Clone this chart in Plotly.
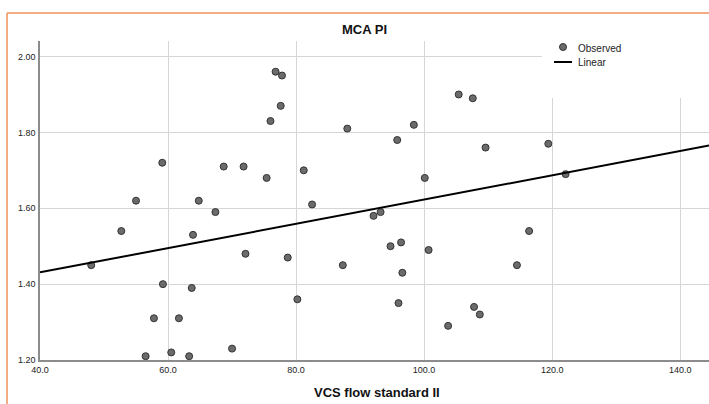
import plotly.graph_objects as go

# Observed data (VCS flow standard II vs MCA PI)
vcs_flow = [76.8, 77.8, 77.6, 76.0, 88.0, 59.1, 68.7, 71.8, 75.4, 81.2,
            55.0, 64.8, 98.4, 105.4, 107.6, 95.8, 109.6, 100.1, 82.5, 119.4,
            122.1, 67.4, 52.7, 63.9, 72.1, 48.0, 59.2, 63.7, 57.8, 61.7,
            70.0, 56.5, 60.5, 63.3, 92.1, 93.2, 94.75, 96.4, 100.7, 78.7,
            87.3, 96.6, 80.2, 96.0, 107.8, 108.7, 103.75, 116.4, 114.5]
mca_pi = [1.96, 1.95, 1.87, 1.83, 1.81, 1.72, 1.71, 1.71, 1.68, 1.70,
          1.62, 1.62, 1.82, 1.90, 1.89, 1.78, 1.76, 1.68, 1.61, 1.77,
          1.69, 1.59, 1.54, 1.53, 1.48, 1.45, 1.40, 1.39, 1.31, 1.31,
          1.23, 1.21, 1.22, 1.21, 1.58, 1.59, 1.50, 1.51, 1.49, 1.47,
          1.45, 1.43, 1.36, 1.35, 1.34, 1.32, 1.29, 1.54, 1.45]

# Linear fit
linear_intercept = 1.303
linear_slope = 0.0032

x_ticks = [40, 60, 80, 100, 120, 140]
x_tick_labels = ["40.0", "60.0", "80.0", "100.0", "120.0", "140.0"]
y_ticks = [1.20, 1.40, 1.60, 1.80, 2.00]
y_tick_labels = ["1.20", "1.40", "1.60", "1.80", "2.00"]

x_range = [40, 144.5]
y_range = [1.20, 2.041]

fit_x = x_range
fit_y = [linear_intercept + linear_slope * v for v in fit_x]

fig = go.Figure()
fig.add_trace(go.Scatter(
    x=vcs_flow, y=mca_pi, mode="markers", name="Observed",
    marker=dict(size=7, color="#6b6b6b", line=dict(color="#333333", width=1)),
    showlegend=False, cliponaxis=False))
fig.add_trace(go.Scatter(
    x=fit_x, y=fit_y, mode="lines", name="Linear",
    line=dict(color="#000000", width=2), showlegend=False))

grid_color = "#d6d6d6"
shapes = []
# legend white box hiding gridlines
shapes.append(dict(type="rect", xref="x", yref="y", x0=118.4, x1=144.5,
                   y0=1.891, y1=2.041, fillcolor="white", line=dict(width=0),
                   layer="between"))
# orange frame
shapes.append(dict(type="line", xref="paper", yref="paper", x0=-0.0493, x1=1.01,
                   y0=1.0878, y1=1.0878, line=dict(color="#f0915a", width=1.5)))
shapes.append(dict(type="line", xref="paper", yref="paper", x0=-0.0493, x1=-0.0493,
                   y0=1.0878, y1=-0.15, line=dict(color="#f0915a", width=1.5)))


# manual legend
def px_x(p):
    return (p - 40) / 669.0


def px_y(p):
    return (360 - p) / 319.0


shapes.append(dict(type="circle", xref="paper", yref="paper",
                   x0=px_x(559.5), x1=px_x(566.5), y0=px_y(50.5), y1=px_y(43.5),
                   fillcolor="#6b6b6b", line=dict(color="#333333", width=1)))
shapes.append(dict(type="line", xref="paper", yref="paper",
                   x0=px_x(554), x1=px_x(572), y0=px_y(62), y1=px_y(62),
                   line=dict(color="#000000", width=2)))

annotations = [
    dict(text="<b>MCA PI</b>", xref="paper", yref="paper", x=px_x(364), y=px_y(30),
         showarrow=False, font=dict(size=13, color="#111111"), xanchor="center", yanchor="middle"),
    dict(text="<b>VCS flow standard II</b>", xref="paper", yref="paper", x=px_x(377), y=px_y(392),
         showarrow=False, font=dict(size=13, color="#111111"), xanchor="center", yanchor="middle"),
    dict(text="Observed", xref="paper", yref="paper", x=px_x(576), y=px_y(48),
         showarrow=False, font=dict(size=10, color="#222222"), xanchor="left", yanchor="middle"),
    dict(text="Linear", xref="paper", yref="paper", x=px_x(576), y=px_y(62),
         showarrow=False, font=dict(size=10, color="#222222"), xanchor="left", yanchor="middle"),
]

fig.update_layout(
    width=709, height=404,
    margin=dict(l=40, r=0, t=41, b=44),
    paper_bgcolor="white", plot_bgcolor="white",
    font=dict(family="Liberation Sans, Arial, sans-serif", size=9, color="#222222"),
    shapes=shapes, annotations=annotations,
    hovermode=False,
    xaxis=dict(range=x_range, tickvals=x_ticks, ticktext=x_tick_labels,
               showgrid=True, gridcolor=grid_color, gridwidth=1,
               showline=True, linecolor="#8c8c8c", linewidth=1.5,
               zeroline=False, ticks="", tickfont=dict(size=9)),
    yaxis=dict(range=y_range, tickvals=y_ticks, ticktext=y_tick_labels,
               showgrid=True, gridcolor=grid_color, gridwidth=1,
               showline=True, linecolor="#8c8c8c", linewidth=1.5,
               zeroline=False, ticks="", tickfont=dict(size=9),
               ticklabelstandoff=1),
)

fig.write_html("out.html",
               config={"displayModeBar": False},
               post_script="document.body.style.margin='0';document.body.style.overflow='hidden';")
